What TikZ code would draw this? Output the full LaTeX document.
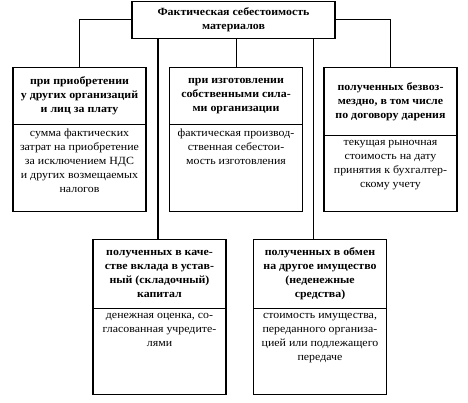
\documentclass[tikz,border=0pt]{standalone}
\usepackage{fontspec}
\setmainfont[FakeStretch=1.08]{Liberation Serif}
\usetikzlibrary{positioning}

\begin{document}
\begin{tikzpicture}[x=1pt,y=-1pt]
\useasboundingbox (0,0) rectangle (468,403);

\tikzset{ColBox/.style={rectangle, draw, line width=1.1pt, minimum width=133pt, anchor=north, inner sep=0pt},
         HeadBox/.style={ColBox, align=center, font=\fontsize{11}{14}\selectfont\bfseries},
         BodyText/.style={rectangle, anchor=north, align=center, inner sep=4pt, font=\fontsize{11}{14}\selectfont}}

% Top box
\node (T) at (233.5,0.6) [ColBox, minimum width=203pt, minimum height=37pt, align=center, font=\fontsize{11}{14}\selectfont\bfseries]
    {Фактическая себестоимость\\материалов};

% Upper row
\node (L) at (79.5,67) [ColBox, minimum height=144pt] {};
\node (Lh) at (L.north) [HeadBox, minimum height=57pt]
    {при приобретении\\у других организаций\\и лиц за плату};
\node (Lb) at (Lh.south) [BodyText]
    {сумма фактических\\затрат на приобретение\\за исключением НДС\\и других возмещаемых\\налогов};

\node (M) at (236,67) [ColBox, minimum height=144pt] {};
\node (Mh) at (M.north) [HeadBox, minimum height=57pt]
    {при изготовлении\\собственными сила-\\ми организации};
\node (Mb) at (Mh.south) [BodyText]
    {фактическая производ-\\ственная себестои-\\мость изготовления};

\node (R) at (390.5,67) [ColBox, minimum height=144pt] {};
\node (Rh) at (R.north) [HeadBox, minimum height=68pt]
    {полученных безвоз-\\мездно, в том числе\\по договору дарения};
\node (Rb) at (Rh.south) [BodyText]
    {текущая рыночная\\стоимость на дату\\принятия к бухгалтер-\\скому учету};

% Lower row
\node (BL) at (159.5,239) [ColBox, minimum height=155pt] {};
\node (BLh) at (BL.north) [HeadBox, minimum height=69pt]
    {полученных в каче-\\стве вклада в устав-\\ный (складочный)\\капитал};
\node (BLb) at (BLh.south) [BodyText]
    {денежная оценка, со-\\гласованная учредите-\\лями};

\node (BR) at (320,239) [ColBox, minimum height=155pt] {};
\node (BRh) at (BR.north) [HeadBox, minimum height=69pt]
    {полученных в обмен\\на другое имущество\\(неденежные\\средства)};
\node (BRb) at (BRh.south) [BodyText]
    {стоимость имущества,\\переданного организа-\\цией или подлежащего\\передаче};

\tikzset{Link/.style={draw, line width=0.9pt},
         LongLink/.style={draw, line width=1.5pt}}

\draw [Link] (T.west) -| (L.north);
\draw [Link] (T.east) -| (R.north);
\draw [Link] (T.south -| M.north) -- (M.north);
\draw [LongLink] ([xshift=-1.5pt]BL.north) -- ([xshift=-1.5pt]BL.north |- T.south);
\draw [LongLink] ([xshift=-6.5pt]BR.north) -- ([xshift=-6.5pt]BR.north |- T.south);

\end{tikzpicture}
\end{document}
